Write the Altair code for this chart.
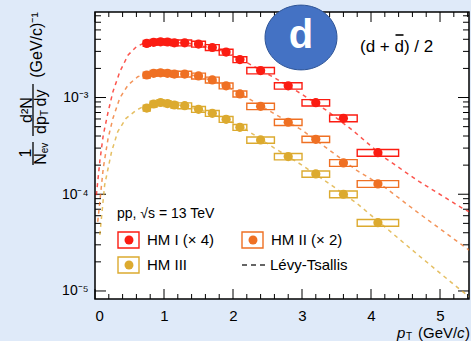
import altair as alt
import pandas as pd

FONT = "Liberation Sans"

# ---- deuteron spectra, (d + dbar)/2, pp 13 TeV high-multiplicity classes ----
pt = [0.75, 0.85, 0.95, 1.05, 1.15, 1.3, 1.5, 1.7, 1.9, 2.1, 2.4, 2.8, 3.2, 3.6, 4.1]
pt_lo = [0.7, 0.8, 0.9, 1.0, 1.1, 1.2, 1.4, 1.6, 1.8, 2.0, 2.2, 2.6, 3.0, 3.4, 3.8]
pt_hi = [0.8, 0.9, 1.0, 1.1, 1.2, 1.4, 1.6, 1.8, 2.0, 2.2, 2.6, 3.0, 3.4, 3.8, 4.4]
hm1_x4 = [3.63e-3, 3.72e-3, 3.77e-3, 3.75e-3, 3.68e-3, 3.68e-3, 3.57e-3, 3.29e-3,
          2.95e-3, 2.47e-3, 1.90e-3, 1.32e-3, 8.84e-4, 6.10e-4, 2.69e-4]
hm2_x2 = [1.71e-3, 1.78e-3, 1.80e-3, 1.78e-3, 1.75e-3, 1.75e-3, 1.67e-3, 1.52e-3,
          1.32e-3, 1.09e-3, 8.11e-4, 5.55e-4, 3.70e-4, 2.11e-4, 1.28e-4]
hm3 = [7.79e-4, 8.57e-4, 8.88e-4, 8.67e-4, 8.37e-4, 8.23e-4, 7.55e-4, 6.87e-4,
       5.95e-4, 4.92e-4, 3.64e-4, 2.45e-4, 1.62e-4, 1.00e-4, 5.08e-5]
sys_rel = [0.07, 0.07, 0.07, 0.07, 0.07, 0.07, 0.07, 0.07,
           0.07, 0.07, 0.075, 0.075, 0.075, 0.08, 0.08]

# ---- Levy-Tsallis fit curves ----
fit1_pt = [0.02, 0.07, 0.12, 0.19, 0.26, 0.36, 0.48, 0.60, 0.72, 0.90, 1.10, 1.40,
           1.80, 2.20, 2.60, 3.00, 3.35, 3.73, 4.21, 4.70, 5.32, 5.42]
fit1 = [9.8e-5, 2.2e-4, 4.1e-4, 7.1e-4, 1.15e-3, 1.85e-3, 2.75e-3, 3.35e-3, 3.68e-3,
        3.80e-3, 3.75e-3, 3.60e-3, 3.12e-3, 2.30e-3, 1.60e-3, 1.08e-3, 7.4e-4,
        4.6e-4, 2.35e-4, 1.35e-4, 7.2e-5, 6.6e-5]
fit2_pt = [0.04, 0.12, 0.19, 0.26, 0.36, 0.48, 0.62, 0.74, 0.95, 1.20, 1.50, 1.90,
           2.20, 2.60, 3.00, 3.40, 3.80, 4.20, 4.70, 5.42]
fit2 = [5.2e-5, 1.87e-4, 3.8e-4, 6.1e-4, 9.9e-4, 1.35e-3, 1.64e-3, 1.76e-3, 1.80e-3,
        1.76e-3, 1.67e-3, 1.33e-3, 1.0e-3, 6.8e-4, 4.6e-4, 2.85e-4, 1.75e-4,
        1.18e-4, 6.3e-5, 2.65e-5]
fit3_pt = [0.07, 0.14, 0.24, 0.33, 0.45, 0.60, 0.72, 0.95, 1.20, 1.50, 1.90, 2.20,
           2.60, 3.00, 3.40, 3.80, 4.20, 4.70, 5.30, 5.42]
fit3 = [3.8e-5, 1.25e-4, 2.75e-4, 4.44e-4, 6.1e-4, 7.4e-4, 8.2e-4, 8.75e-4, 8.4e-4,
        7.6e-4, 5.95e-4, 4.6e-4, 3.0e-4, 2.0e-4, 1.28e-4, 8.0e-5, 4.6e-5, 2.3e-5,
        1.02e-5, 8.8e-6]

series_names = ["HM I (× 4)", "HM II (× 2)", "HM III"]
series_colors = ["#fb1c12", "#ef7023", "#dcaa2f"]

# axis tick positions
x_major = [0, 1, 2, 3, 4, 5]
x_minor = [round(0.2 * i, 1) for i in range(1, 28) if i % 5 != 0]
y_major = [1e-5, 1e-4, 1e-3]
y_minor = [m * 10.0 ** e for e in (-5, -4, -3) for m in range(2, 10) if m * 10.0 ** e < 7.6e-3]

W, H = 374, 287
xs = alt.Scale(domain=[0, 5.42], nice=False, zero=False)
ys = alt.Scale(type="log", domain=[8.26e-6, 7.66e-3], nice=False)
x_axis = alt.Axis(values=x_major, ticks=False, domain=False, grid=False, title=None,
                  labelFont=FONT, labelFontSize=15, labelColor="black", labelPadding=9)
y_axis = alt.Axis(values=y_major, ticks=False, domain=False, grid=False, title=None,
                  labelFont=FONT, labelFontSize=14, labelColor="black", labelPadding=7,
                  labelExpr="datum.value < 5e-5 ? '10⁻⁵' : datum.value < 5e-4 ? '10⁻⁴' : '10⁻³'")


def xq(f):
    return alt.X(f, type="quantitative", scale=xs, axis=x_axis)


def yq(f):
    return alt.Y(f, type="quantitative", scale=ys, axis=y_axis)


color = alt.Color("series:N", scale=alt.Scale(domain=series_names, range=series_colors), legend=None)

rows = []
for name, vals in zip(series_names, [hm1_x4, hm2_x2, hm3]):
    for p, lo, hi, v, s in zip(pt, pt_lo, pt_hi, vals, sys_rel):
        rows.append({"series": name, "pt": p, "lo": lo, "hi": hi, "val": v,
                     "ylo": v * (1 - s), "yhi": v * (1 + s)})
pts = pd.DataFrame(rows)

frows = []
for name, xx, yy in zip(series_names, [fit1_pt, fit2_pt, fit3_pt], [fit1, fit2, fit3]):
    for a, b in zip(xx, yy):
        frows.append({"series": name, "pt": a, "val": b})
fits_df = pd.DataFrame(frows)

one = pd.DataFrame({"k": [0]})


def txt(s, x, y, size=14, align="left", baseline="middle", angle=0, **kw):
    return alt.Chart(one).mark_text(text=s, font=FONT, fontSize=size, align=align,
                                    baseline=baseline, angle=angle, color=kw.pop("color", "black"),
                                    **kw).encode(x=alt.value(x), y=alt.value(y))


def hrule(x1, x2, y, **kw):
    return alt.Chart(one).mark_rule(**kw).encode(x=alt.value(x1), x2=alt.value(x2), y=alt.value(y))


def vrule(x, y1, y2, **kw):
    return alt.Chart(one).mark_rule(**kw).encode(x=alt.value(x), y=alt.value(y1), y2=alt.value(y2))


# frame ticks, pointing inwards on all four sides
def yticks(vals, length):
    d = pd.DataFrame({"v": vals})
    left = alt.Chart(d).mark_rule(color="black", strokeWidth=1).encode(
        y=yq("v"), x=alt.value(0), x2=alt.value(length))
    right = alt.Chart(d).mark_rule(color="black", strokeWidth=1).encode(
        y=yq("v"), x=alt.value(W), x2=alt.value(W - length))
    return [left, right]


def xticks(vals, length):
    d = pd.DataFrame({"v": vals})
    bottom = alt.Chart(d).mark_rule(color="black", strokeWidth=1).encode(
        x=xq("v"), y=alt.value(H), y2=alt.value(H - length))
    top = alt.Chart(d).mark_rule(color="black", strokeWidth=1).encode(
        x=xq("v"), y=alt.value(0), y2=alt.value(length))
    return [bottom, top]


tick_layers = yticks(y_major, 11) + yticks(y_minor, 6) + xticks(x_major, 10) + xticks(x_minor, 5)

boxes = alt.Chart(pts).mark_rect(filled=False, strokeWidth=1.4).encode(
    x=xq("lo"), x2="hi", y=yq("ylo"), y2="yhi", color=color)

fit_lines = alt.Chart(fits_df).mark_line(strokeDash=[4, 4], strokeWidth=1.5, opacity=0.75,
                                         clip=True).encode(
    x=xq("pt"), y=yq("val"), color=color, order="pt:Q")

markers = alt.Chart(pts).mark_point(filled=True, shape="circle", size=85, opacity=1).encode(
    x=xq("pt"), y=yq("val"), color=color)

# legend
leg = [txt("pp, √s = 13 TeV", 22, 202, 14)]
leg_pos = [(23, 228), (147, 228), (23, 253)]
for (lx, ly), name, col in zip(leg_pos, series_names, series_colors):
    leg.append(alt.Chart(one).mark_rect(filled=False, stroke=col, strokeWidth=1.4).encode(
        x=alt.value(lx), x2=alt.value(lx + 21), y=alt.value(ly - 8), y2=alt.value(ly + 8)))
    leg.append(alt.Chart(one).mark_point(filled=True, shape="circle", size=80, color=col,
                                         opacity=1).encode(x=alt.value(lx + 11), y=alt.value(ly)))
    leg.append(txt(name, lx + 29, ly, 15))
leg.append(hrule(147, 172, 253, color="#333333", strokeWidth=1.3, strokeDash=[5, 4]))
leg.append(txt("Lévy-Tsallis", 175, 253, 15))

# particle label and badge
ellipse = ("M-1,0 C-1,-0.497 -0.552,-0.9 0,-0.9 C0.552,-0.9 1,-0.497 1,0 "
           "C1,0.497 0.552,0.9 0,0.9 C-0.552,0.9 -1,0.497 -1,0 Z")
badge = alt.Chart(one).mark_point(shape=ellipse, size=5184, filled=True, fill="#4472c4",
                                  stroke="#2f5597", strokeWidth=1, opacity=1).encode(
    x=alt.value(206), y=alt.value(25.5))
badge_txt = txt("d", 206, 36, 40, align="center", baseline="alphabetic", color="white",
                fontWeight="bold")
dd_txt = txt("(d + d) / 2", 265, 40, 17, baseline="alphabetic")
dd_bar = hrule(300.5, 308.5, 23, color="black", strokeWidth=1.6)

# axis titles
ytitle = [
    txt("(GeV/c)⁻¹", -58, 33, 16, align="center", angle=270),
    txt("d²N", -68, 98, 16, align="center", angle=270),
    vrule(-62, 72, 124, color="black", strokeWidth=1.3),
    txt("dp", -54, 113, 16, align="center", angle=270),
    txt("T", -50, 101, 10, align="center", angle=270),
    txt("dy", -54, 86, 16, align="center", angle=270),
    txt("1", -69, 141, 16, align="center", angle=270),
    vrule(-62, 130, 153, color="black", strokeWidth=1.3),
    txt("N", -54, 147, 16, align="center", angle=270),
    txt("ev", -50, 136, 10, align="center", angle=270),
]
xtitle = [
    txt("p", 302, 321, 15, fontStyle="italic"),
    txt("T", 311, 325, 10),
    txt("(GeV/", 323, 321, 15),
    txt("c", 362, 321, 15, fontStyle="italic"),
    txt(")", 370, 321, 15),
]

chart = alt.layer(
    *tick_layers, boxes, fit_lines, markers, *leg, badge, badge_txt, dd_txt, dd_bar,
    *ytitle, *xtitle
).properties(
    width=W, height=H,
    autosize=alt.AutoSizeParams(type="none"),
    padding={"left": 95, "top": 12, "right": 2, "bottom": 42},
    background="#dfeaf9",
).configure_view(fill="white", stroke="black", strokeWidth=1.5)

chart.save("out.html", embed_options={"renderer": "svg", "actions": False})
